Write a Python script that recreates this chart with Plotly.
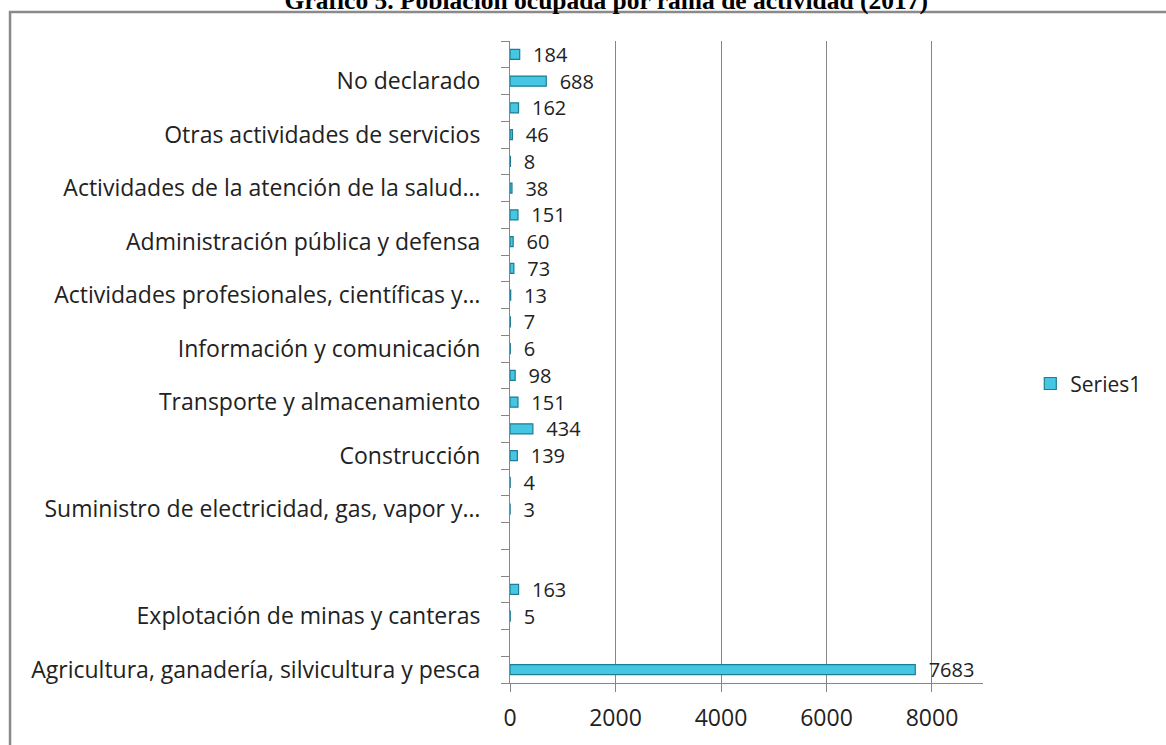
import plotly.graph_objects as go

# Categories listed bottom-to-top (as drawn); '' = row without a visible label
labels = [
    "Agricultura, ganadería, silvicultura y pesca", "",
    "Explotación de minas y canteras", "",
    "", "",
    "Suministro de electricidad, gas, vapor y…", "",
    "Construcción", "",
    "Transporte y almacenamiento", "",
    "Información y comunicación", "",
    "Actividades profesionales, científicas y…", "",
    "Administración pública y defensa", "",
    "Actividades de la atención de la salud…", "",
    "Otras actividades de servicios", "",
    "No declarado", "",
]
values = [7683, None, 5, 163, None, None, 3, 4, 139, 434, 151, 98,
          6, 7, 13, 73, 60, 151, 38, 8, 46, 162, 688, 184]
series_name = "Series1"
x_ticks = [0, 2000, 4000, 6000, 8000]
title_text = "Gráfico 5. Población ocupada por rama de actividad (2017)"

pos = list(range(len(labels)))
bounds = [p - 0.5 for p in pos] + [pos[-1] + 0.5]

FONT = "Open Sans"
FS = 23
GRID = "#868686"
TXT = "#222222"

fig = go.Figure()
fig.add_trace(go.Bar(
    x=values, y=pos, orientation="h", name=series_name,
    marker=dict(color="#45C6E2", line=dict(color="#1E7C94", width=1.2)),
    width=0.38,
    text=[("" if v is None else str(v)) for v in values],
    texttemplate="\u00a0\u00a0%{text}",
    textposition="outside", cliponaxis=False, constraintext="none",
    textfont=dict(family=FONT, size=20, color=TXT),
    showlegend=True,
))

fig.update_layout(
    width=1166, height=745,
    margin=dict(l=510, r=183, t=41, b=60),
    paper_bgcolor="white", plot_bgcolor="white",
    title=dict(text=title_text, x=0.52, xanchor="center", y=1.0, yanchor="middle",
               yref="container",
               font=dict(family="Liberation Serif", size=25.5, color="#000000", weight="bold")),
    showlegend=True,
    legend=dict(x=1.10, y=0.466, xanchor="left", yanchor="middle",
                font=dict(family=FONT, size=21, color=TXT),
                bgcolor="rgba(0,0,0,0)", itemwidth=30),
    bargap=0.6,
    xaxis=dict(range=[0, 8967], tickmode="array", tickvals=x_ticks,
               ticktext=[str(t) for t in x_ticks],
               showgrid=True, gridcolor=GRID, gridwidth=1, zeroline=False,
               showline=True, linecolor=GRID, linewidth=1,
               ticks="outside", ticklen=8, tickcolor=GRID,
               ticklabelstandoff=6,
               tickfont=dict(family=FONT, size=FS, color=TXT)),
    yaxis=dict(range=[-0.5, len(labels) - 0.5], tickmode="array", tickvals=pos,
               ticktext=labels, showgrid=False, zeroline=False,
               showline=True, linecolor=GRID, linewidth=1,
               ticks="", ticklabelstandoff=24,
               minor=dict(tickmode="array", tickvals=bounds, ticks="outside",
                          ticklen=8, tickcolor=GRID, showgrid=False),
               tickfont=dict(family=FONT, size=FS, color=TXT)),
    shapes=[dict(type="rect", xref="paper", yref="paper",
                 x0=-1.057, x1=1.40, y0=-0.11, y1=1.045,
                 line=dict(color="#8a8a8a", width=2.5), fillcolor="rgba(0,0,0,0)",
                 layer="below")],
)

fig.write_html("out.html", config={"displayModeBar": False},
               post_script="document.body.style.margin='0';")
